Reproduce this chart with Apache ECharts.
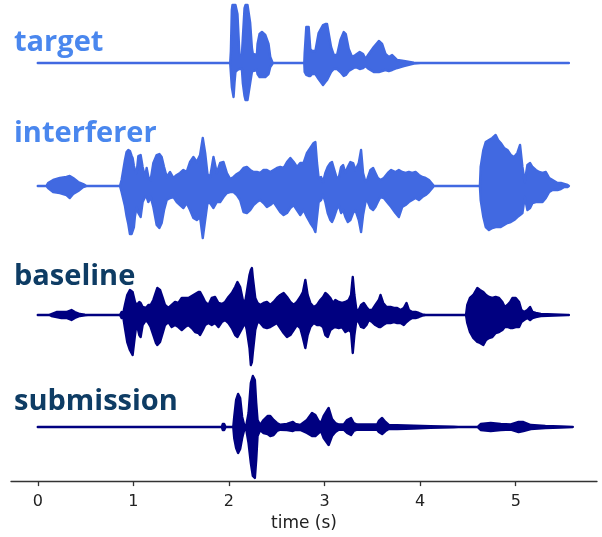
<!DOCTYPE html>
<html><head><meta charset="utf-8">
<script src="https://cdn.jsdelivr.net/npm/echarts@6/dist/echarts.min.js"></script>
<style>html,body{margin:0;padding:0;background:#fff}#c{width:602px;height:537px}</style>
</head><body><div id="c"></div>
<script>
// rows: [time (s), upper envelope, lower envelope] (amplitude, arbitrary units)
const trackNames = ['target', 'interferer', 'baseline', 'submission'];
const tickValues = [0, 1, 2, 3, 4, 5];

const targetEnv = [[0,0,0],[2.013,0,0],[2.020,12,-10],[2.030,53,-24],[2.037,58,-28],[2.048,58,-34],[2.058,58,-20],[2.068,58,-9],[2.089,49,-7],[2.110,8,-6],[2.135,8,-6],[2.145,25,-20],[2.163,55,-33],[2.173,58,-37],[2.194,58,-37],[2.222,40,-20],[2.240,15,-9],[2.250,9,-8],[2.292,8,-7],[2.299,19,-11],[2.320,29,-14],[2.345,31,-14],[2.380,28,-14],[2.414,19,-11],[2.432,6,-4],[2.453,1,-1],[2.460,0,0],[2.788,0,0],[2.792,10,-9],[2.809,36,-12],[2.834,36,-13],[2.851,14,-13],[2.869,12,-11],[2.904,12,-11],[2.938,30,-16],[2.984,38,-22],[3.008,39,-19],[3.026,39,-17],[3.068,16,-9],[3.096,8,-6],[3.131,8,-6],[3.166,23,-9],[3.201,31,-13],[3.222,29,-12],[3.253,14,-8],[3.288,6,-6],[3.323,8,-4],[3.368,11,-6],[3.403,9,-5],[3.428,4,-3],[3.463,9,-6],[3.515,16,-9],[3.568,22,-9],[3.602,19,-8],[3.637,9,-7],[3.672,6,-8],[3.707,8,-7],[3.760,3,-5],[3.829,2,-3],[3.934,0.3,-0.5],[4.004,0,0],[5.556,0,0]];

const interfererEnv = [[0,0,0],[0.09,0,0],[0.108,3,-2],[0.161,6,-6],[0.231,8,-7],[0.300,9,-9],[0.335,10,-12],[0.370,8,-8],[0.423,4,-5],[0.475,2,-1],[0.510,0,0],[0.860,0,0],[0.877,6,-6],[0.912,26,-20],[0.929,34,-30],[0.947,36,-38],[0.964,35,-48],[0.982,30,-48],[0.992,28,-45],[1.006,20,-41],[1.017,16,-30],[1.034,13,-21],[1.052,30,-27],[1.076,31,-31],[1.097,19,-16],[1.122,9,-11],[1.139,18,-11],[1.157,9,-16],[1.181,6,-11],[1.209,23,-21],[1.244,31,-39],[1.272,32,-42],[1.296,29,-37],[1.321,19,-24],[1.349,9,-14],[1.384,14,-12],[1.419,8,-11],[1.454,11,-16],[1.488,13,-19],[1.523,16,-22],[1.558,14,-17],[1.593,24,-24],[1.628,29,-32],[1.663,24,-34],[1.698,31,-31],[1.726,48,-52],[1.751,33,-34],[1.775,12,-17],[1.803,9,-17],[1.838,29,-22],[1.873,13,-16],[1.908,23,-16],[1.943,24,-11],[1.978,13,-7],[2.013,7,-6],[2.048,9,-6],[2.083,12,-9],[2.117,14,-14],[2.152,18,-26],[2.187,19,-27],[2.222,16,-24],[2.257,14,-19],[2.292,14,-16],[2.327,13,-14],[2.362,16,-17],[2.397,16,-21],[2.432,14,-19],[2.467,16,-16],[2.502,18,-21],[2.537,19,-26],[2.572,18,-29],[2.607,24,-27],[2.642,28,-22],[2.677,24,-19],[2.711,19,-24],[2.746,23,-29],[2.781,23,-24],[2.816,33,-31],[2.851,38,-37],[2.886,43,-42],[2.904,44,-46],[2.921,23,-31],[2.938,8,-16],[2.963,9,-14],[2.984,4,-9],[3.008,13,-16],[3.033,19,-27],[3.061,23,-34],[3.078,24,-36],[3.096,18,-32],[3.124,9,-24],[3.148,8,-19],[3.173,19,-27],[3.194,21,-24],[3.218,13,-31],[3.243,19,-36],[3.270,24,-34],[3.298,23,-27],[3.323,16,-24],[3.358,23,-34],[3.382,36,-46],[3.403,13,-29],[3.428,4,-16],[3.445,6,-14],[3.480,16,-22],[3.508,18,-24],[3.532,13,-21],[3.557,8,-16],[3.585,6,-11],[3.620,8,-12],[3.662,13,-17],[3.697,16,-21],[3.742,14,-27],[3.777,16,-31],[3.812,14,-21],[3.847,13,-19],[3.882,14,-16],[3.917,13,-14],[3.952,14,-12],[3.987,11,-14],[4.022,9,-11],[4.057,8,-9],[4.092,6,-6],[4.127,2,-2],[4.144,0,0],[4.625,0,0],[4.633,19,-14],[4.661,36,-31],[4.686,44,-41],[4.720,46,-44],[4.755,48,-42],[4.790,51,-41],[4.815,46,-41],[4.843,43,-41],[4.878,38,-39],[4.913,36,-37],[4.948,31,-36],[4.983,29,-34],[5.017,33,-31],[5.045,41,-29],[5.070,19,-27],[5.094,4,-11],[5.122,21,-24],[5.150,23,-22],[5.175,19,-17],[5.210,16,-16],[5.245,14,-16],[5.280,13,-16],[5.315,14,-12],[5.350,8,-6],[5.385,6,-4],[5.437,3,-4],[5.472,3,-3],[5.507,2,-1],[5.542,1,-1],[5.556,0,0]];

const baselineEnv = [[0,0,0],[0.12,0,0],[0.143,1,-1],[0.196,3,-2],[0.248,3,-3],[0.300,3,-3],[0.353,5,-5],[0.388,3,-3],[0.440,1,-1],[0.493,0.3,-0.3],[0.525,0,0],[0.860,0,0],[0.877,3,-3],[0.894,2,-2],[0.912,10,-13],[0.936,20,-27],[0.964,25,-35],[0.992,23,-40],[1.017,13,-20],[1.034,10,-8],[1.062,13,-20],[1.076,12,-22],[1.097,8,-10],[1.132,7,-5],[1.157,10,-8],[1.181,10,-12],[1.209,15,-20],[1.237,23,-28],[1.251,27,-30],[1.279,25,-27],[1.307,17,-18],[1.331,10,-10],[1.366,7,-7],[1.401,10,-12],[1.436,13,-10],[1.471,12,-12],[1.506,17,-15],[1.541,17,-12],[1.576,17,-10],[1.611,19,-13],[1.646,21,-17],[1.681,23,-18],[1.698,23,-20],[1.726,18,-15],[1.751,13,-10],[1.785,10,-8],[1.820,17,-10],[1.855,18,-8],[1.890,12,-12],[1.925,11,-7],[1.960,13,-5],[1.995,18,-8],[2.030,22,-13],[2.065,28,-20],[2.089,33,-22],[2.117,28,-17],[2.145,15,-12],[2.170,13,-8],[2.187,23,-15],[2.215,40,-33],[2.229,45,-50],[2.240,47,-47],[2.250,37,-37],[2.275,17,-15],[2.299,12,-7],[2.327,10,-8],[2.362,12,-12],[2.397,13,-13],[2.432,10,-12],[2.467,13,-10],[2.502,17,-8],[2.537,20,-13],[2.572,22,-18],[2.607,18,-22],[2.642,13,-20],[2.677,10,-15],[2.711,13,-10],[2.746,18,-13],[2.774,23,-23],[2.799,35,-33],[2.823,20,-20],[2.851,12,-12],[2.886,8,-8],[2.921,10,-10],[2.956,15,-10],[2.984,18,-12],[3.008,22,-20],[3.033,20,-22],[3.061,17,-15],[3.089,12,-13],[3.113,15,-12],[3.148,13,-13],[3.183,12,-12],[3.218,13,-17],[3.253,15,-15],[3.277,20,-17],[3.295,38,-38],[3.312,20,-20],[3.333,5,-5],[3.358,5,-7],[3.382,10,-12],[3.410,12,-13],[3.438,8,-10],[3.463,5,-5],[3.498,5,-7],[3.532,10,-10],[3.568,15,-12],[3.585,20,-12],[3.613,12,-10],[3.648,8,-8],[3.690,8,-8],[3.725,7,-7],[3.760,7,-8],[3.795,5,-8],[3.829,7,-10],[3.857,12,-7],[3.882,5,-5],[3.917,3,-3],[3.952,3,-3],[3.987,2,-2],[4.022,0.7,-0.7],[4.057,0,0],[4.480,0,0],[4.493,10,-8],[4.521,17,-17],[4.556,20,-23],[4.598,27,-27],[4.626,25,-28],[4.661,23,-30],[4.689,20,-25],[4.720,18,-23],[4.755,17,-22],[4.790,18,-18],[4.825,17,-17],[4.860,13,-15],[4.885,8,-12],[4.913,10,-12],[4.941,13,-13],[4.965,17,-13],[5.000,17,-12],[5.035,13,-12],[5.059,5,-7],[5.087,3,-5],[5.122,5,-3],[5.150,8,-5],[5.175,3,-3],[5.210,2,-2],[5.262,1,-1],[5.332,0.7,-0.7],[5.402,0.5,-0.5],[5.542,0,0],[5.556,0,0]];

const submissionEnv = [[0,0,0],[1.925,0,0],[1.935,3,-3],[1.950,3,-3],[1.965,0,0],[2.045,0,0],[2.055,10,-11],[2.075,27,-21],[2.096,33,-26],[2.117,29,-22],[2.138,10,-11],[2.159,2,-3],[2.180,1,-2],[2.205,14,-16],[2.229,44,-36],[2.250,51,-49],[2.271,47,-51],[2.285,24,-33],[2.299,7,-9],[2.327,2,-3],[2.362,7,-6],[2.404,11,-7],[2.432,11,-9],[2.467,7,-8],[2.502,4,-4],[2.537,2.3,-2.7],[2.607,3,-3],[2.669,5,-4],[2.694,3,-3],[2.746,2,-3],[2.816,7,-6],[2.869,14,-9],[2.904,12,-9],[2.938,6,-6],[2.963,4,-4],[2.991,11,-11],[3.043,19,-18],[3.078,8,-9],[3.113,4,-5],[3.148,2.5,-2.7],[3.201,2.5,-2.7],[3.236,7,-6],[3.277,9,-8],[3.305,4,-4],[3.340,2.5,-2.7],[3.445,2.5,-2.7],[3.550,2.5,-2.7],[3.568,6,-5],[3.602,9,-7],[3.637,5,-4],[3.672,2,-2],[3.760,1.7,-2],[3.934,1.2,-1.5],[4.109,0.7,-0.8],[4.35,0.3,-0.3],[4.40,0,0],[4.60,0,0],[4.633,3,-3],[4.738,4,-4],[4.843,3,-3],[4.948,2.5,-2.5],[5.03,5,-5],[5.08,5,-4],[5.157,2,-2],[5.31,1,-1],[5.47,0.5,-0.5],[5.597,0,0]];

const envs = [targetEnv, interfererEnv, baselineEnv, submissionEnv];
const waveColors = ['#4169e1', '#4169e1', '#000080', '#000080'];
const labelColors = ['#4a87ee', '#4a87ee', '#0e3c64', '#0e3c64'];
const centers = [63, 186, 315, 427];      // layout: vertical centre of each track (px)
const labelY = [43, 134, 277, 402];       // layout: label centre (px)

const XMIN = -0.28, XMAX = 5.85, GL = 11, GW = 586, HALF = 60;

const grids = [], xAxes = [], yAxes = [], series = [];
envs.forEach((env, k) => {
  grids.push({left: GL, width: GW, top: centers[k] - HALF, height: 2 * HALF});
  xAxes.push({type: 'value', gridIndex: k, min: XMIN, max: XMAX, show: false});
  yAxes.push({type: 'value', gridIndex: k, min: -HALF, max: HALF, show: false});
  const color = waveColors[k];
  series.push({
    type: 'custom', xAxisIndex: k, yAxisIndex: k, clip: false, silent: true,
    data: env,
    encode: {x: 0, y: [1, 2]},
    renderItem: function (params, api) {
      if (params.dataIndex !== 0) return null;
      const pts = [];
      for (let i = 0; i < env.length; i++) pts.push(api.coord([env[i][0], env[i][1]]));
      for (let i = env.length - 1; i >= 0; i--) pts.push(api.coord([env[i][0], env[i][2]]));
      return {type: 'polygon', shape: {points: pts},
        style: {fill: color, stroke: color, lineWidth: 2.4, lineJoin: 'round'}};
    }
  });
});
// axis grid
grids.push({left: GL, width: GW, top: 0, height: 483});
xAxes.push({
  type: 'value', gridIndex: 4, min: XMIN, max: XMAX,
  name: 'time (s)', nameLocation: 'middle', nameGap: 33,
  nameTextStyle: {color: '#222', fontSize: 17, fontFamily: 'DejaVu Sans'},
  axisLine: {show: true, lineStyle: {color: '#333', width: 1.3}},
  axisTick: {show: true, length: 5, inside: false, customValues: tickValues, lineStyle: {color: '#333', width: 1.3}},
  axisLabel: {show: true, margin: 13, customValues: tickValues, color: '#222', fontSize: 16, fontFamily: 'DejaVu Sans'},
  splitLine: {show: false}
});
yAxes.push({type: 'value', gridIndex: 4, min: 0, max: 1, show: false});

const chart = echarts.init(document.getElementById('c'), null, {renderer: 'canvas'});
chart.setOption({
  animation: false,
  backgroundColor: '#fff',
  grid: grids, xAxis: xAxes, yAxis: yAxes, series: series,
  graphic: trackNames.map((n, k) => ({
    type: 'text', x: 14, y: labelY[k], z: 10,
    style: {text: n, fill: labelColors[k], font: 'bold 29px "Open Sans"', verticalAlign: 'middle', textVerticalAlign: 'middle'}
  }))
});
</script></body></html>
